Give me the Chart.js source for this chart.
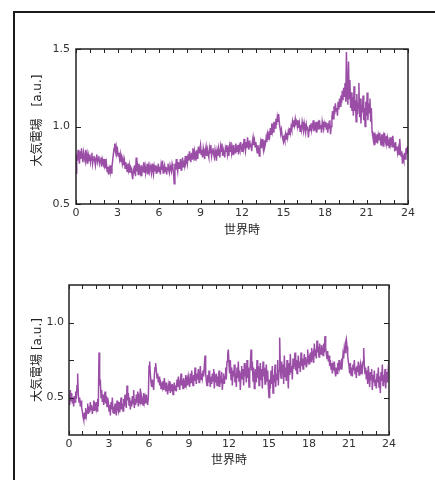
<!DOCTYPE html>
<html>
<head>
<meta charset="utf-8">
<script src="https://cdn.jsdelivr.net/npm/chart.js@4/dist/chart.umd.min.js"></script>
<style>
  html,body{margin:0;padding:0;background:#fff;}
  body{width:435px;height:480px;position:relative;overflow:hidden;}
  #frame{position:absolute;left:13px;top:11px;width:440px;height:480px;border-top:2px solid #1a1a1a;border-left:2px solid #1a1a1a;}
  canvas{position:absolute;left:0;}
  #c1{top:0;}
  #c2{top:240px;}
</style>
</head>
<body>
<div id="frame"></div>
<canvas id="c1" width="435" height="240"></canvas>
<canvas id="c2" width="435" height="240"></canvas>
<script>
// Hours: 0.00 .. 24.00 in steps of 0.05 (481 samples)
const hours = [];
for (let i = 0; i <= 480; i++) hours.push(+(i / 20).toFixed(2));

const xTickLabels = [0, 3, 6, 9, 12, 15, 18, 21, 24];
const xTitle = "世界時";
const yTitleTop = "　大気電場　[a.u.]";
const yTitleBottom = "大気電場 [a.u.]";

// one row = one hour (20 samples)
const fieldTop = [
  0.70,0.82,0.78,0.85,0.80,0.76,0.84,0.79,0.86,0.81,0.77,0.83,0.80,0.78,0.85,0.79,0.82,0.76,0.81,0.78,
  0.82,0.77,0.80,0.83,0.76,0.79,0.81,0.78,0.75,0.80,0.82,0.77,0.79,0.81,0.76,0.78,0.80,0.74,0.79,0.77,
  0.78,0.75,0.79,0.73,0.76,0.71,0.74,0.69,0.73,0.71,0.75,0.70,0.74,0.78,0.82,0.86,0.89,0.84,0.87,0.83,
  0.85,0.81,0.83,0.79,0.82,0.77,0.80,0.76,0.79,0.75,0.78,0.73,0.77,0.74,0.71,0.76,0.72,0.75,0.70,0.74,
  0.73,0.69,0.66,0.72,0.70,0.75,0.68,0.80,0.71,0.74,0.69,0.76,0.72,0.70,0.75,0.68,0.73,0.71,0.77,0.70,
  0.74,0.70,0.72,0.76,0.69,0.74,0.71,0.75,0.73,0.70,0.76,0.72,0.69,0.74,0.71,0.75,0.70,0.73,0.72,0.76,
  0.71,0.74,0.69,0.75,0.72,0.78,0.70,0.73,0.75,0.71,0.74,0.69,0.73,0.76,0.72,0.70,0.75,0.73,0.71,0.76,
  0.74,0.70,0.63,0.76,0.72,0.79,0.74,0.71,0.77,0.73,0.75,0.79,0.72,0.76,0.80,0.74,0.78,0.75,0.81,0.77,
  0.79,0.76,0.82,0.78,0.84,0.80,0.77,0.83,0.79,0.86,0.81,0.84,0.78,0.82,0.80,0.85,0.79,0.87,0.83,0.85,
  0.88,0.82,0.85,0.80,0.86,0.83,0.79,0.84,0.87,0.81,0.85,0.82,0.80,0.86,0.83,0.88,0.81,0.84,0.86,0.82,
  0.80,0.85,0.82,0.78,0.84,0.81,0.86,0.83,0.80,0.87,0.84,0.89,0.81,0.85,0.83,0.80,0.86,0.84,0.88,0.82,
  0.85,0.81,0.87,0.84,0.90,0.83,0.86,0.82,0.88,0.85,0.83,0.89,0.86,0.84,0.88,0.82,0.87,0.85,0.90,0.86,
  0.84,0.89,0.86,0.92,0.87,0.84,0.90,0.86,0.93,0.88,0.85,0.91,0.87,0.89,0.84,0.90,0.93,0.88,0.91,0.87,
  0.90,0.86,0.83,0.88,0.85,0.81,0.87,0.90,0.86,0.92,0.88,0.85,0.91,0.87,0.89,0.93,0.90,0.95,0.92,0.97,
  0.94,0.99,0.95,1.02,0.97,1.00,0.96,1.03,0.99,1.05,1.01,1.06,1.03,1.08,1.02,0.99,0.96,0.98,0.94,0.92,
  0.90,0.93,0.91,0.95,0.92,0.96,0.93,0.97,0.95,0.99,0.96,1.00,0.98,1.03,1.00,1.04,1.01,1.05,1.02,1.03,
  1.00,1.04,0.99,1.02,0.97,1.01,0.98,1.03,1.00,0.97,1.02,0.99,0.96,1.01,0.98,1.00,0.93,0.98,1.01,0.97,
  1.02,0.98,1.00,1.04,0.97,1.01,0.99,1.03,0.96,1.00,1.02,0.98,1.04,0.99,1.01,0.96,1.03,1.00,0.98,1.02,
  1.00,1.03,0.98,1.02,0.96,1.01,0.99,1.04,0.95,1.00,1.06,1.10,1.05,1.13,1.08,1.15,1.10,1.12,1.07,1.16,
  1.11,1.18,1.13,1.20,1.15,1.23,1.17,1.25,1.19,1.28,1.16,1.48,1.20,1.14,1.42,1.18,1.30,1.12,1.22,1.10,
  1.19,1.07,1.26,1.10,1.17,1.03,1.21,1.08,1.15,1.28,1.06,1.18,1.02,1.14,1.09,1.20,1.04,1.12,1.00,1.16,
  1.07,1.22,1.04,1.15,1.09,1.18,1.03,1.12,0.97,0.94,0.91,0.96,0.88,0.93,0.90,0.95,0.89,0.94,0.91,0.96,
  0.92,0.88,0.95,0.90,0.93,0.87,0.96,0.91,0.89,0.94,0.88,0.92,0.90,0.86,0.93,0.89,0.91,0.87,0.94,0.90,
  0.88,0.84,0.90,0.85,0.87,0.83,0.86,0.82,0.92,0.85,0.81,0.84,0.76,0.80,0.78,0.83,0.79,0.86,0.82,0.87,
  0.83
];

const fieldBottom = [
  0.52,0.45,0.55,0.48,0.53,0.46,0.50,0.44,0.51,0.47,0.54,0.49,0.58,0.66,0.52,0.47,0.50,0.44,0.48,0.43,
  0.41,0.37,0.35,0.40,0.36,0.43,0.38,0.41,0.46,0.39,0.44,0.40,0.47,0.42,0.45,0.39,0.43,0.48,0.41,0.45,
  0.43,0.47,0.41,0.49,0.44,0.80,0.58,0.62,0.50,0.55,0.47,0.52,0.45,0.49,0.54,0.46,0.51,0.44,0.50,0.47,
  0.41,0.45,0.38,0.47,0.42,0.50,0.40,0.44,0.39,0.46,0.42,0.38,0.48,0.43,0.41,0.47,0.40,0.44,0.50,0.42,
  0.46,0.41,0.49,0.44,0.52,0.47,0.43,0.58,0.48,0.53,0.45,0.50,0.42,0.48,0.44,0.51,0.46,0.55,0.43,0.49,
  0.45,0.52,0.47,0.54,0.44,0.50,0.48,0.56,0.46,0.51,0.49,0.45,0.53,0.47,0.50,0.46,0.52,0.48,0.45,0.50,
  0.71,0.74,0.66,0.60,0.57,0.62,0.58,0.55,0.65,0.70,0.73,0.68,0.63,0.66,0.60,0.64,0.58,0.62,0.56,0.60,
  0.57,0.61,0.55,0.63,0.58,0.54,0.60,0.56,0.52,0.58,0.55,0.61,0.53,0.57,0.54,0.59,0.52,0.56,0.60,0.55,
  0.58,0.54,0.62,0.57,0.64,0.59,0.55,0.61,0.66,0.58,0.62,0.56,0.63,0.60,0.57,0.65,0.59,0.62,0.58,0.64,
  0.61,0.57,0.66,0.60,0.68,0.62,0.58,0.65,0.61,0.70,0.63,0.59,0.66,0.62,0.69,0.60,0.64,0.71,0.62,0.66,
  0.63,0.68,0.64,0.71,0.78,0.66,0.61,0.58,0.65,0.60,0.68,0.62,0.57,0.64,0.59,0.66,0.61,0.69,0.56,0.63,
  0.60,0.66,0.58,0.64,0.61,0.68,0.57,0.63,0.60,0.67,0.55,0.62,0.66,0.59,0.64,0.70,0.62,0.74,0.79,0.82,
  0.72,0.66,0.75,0.62,0.70,0.58,0.68,0.64,0.72,0.60,0.66,0.57,0.70,0.63,0.74,0.61,0.68,0.55,0.66,0.71,
  0.62,0.69,0.58,0.73,0.64,0.67,0.60,0.75,0.63,0.70,0.57,0.66,0.72,0.82,0.68,0.74,0.61,0.70,0.56,0.65,
  0.69,0.60,0.75,0.63,0.71,0.58,0.67,0.73,0.62,0.69,0.56,0.74,0.64,0.70,0.59,0.66,0.72,0.61,0.68,0.57,
  0.50,0.62,0.56,0.68,0.59,0.71,0.53,0.65,0.60,0.72,0.57,0.66,0.62,0.75,0.58,0.68,0.90,0.70,0.63,0.74,
  0.66,0.72,0.59,0.78,0.64,0.70,0.61,0.75,0.68,0.56,0.73,0.65,0.79,0.67,0.71,0.62,0.76,0.69,0.74,0.80,
  0.68,0.75,0.66,0.72,0.78,0.70,0.74,0.67,0.80,0.71,0.76,0.69,0.73,0.79,0.72,0.77,0.70,0.75,0.82,0.74,
  0.76,0.72,0.80,0.74,0.83,0.77,0.79,0.73,0.86,0.78,0.82,0.76,0.88,0.80,0.84,0.77,0.86,0.81,0.79,0.85,
  0.82,0.78,0.86,0.80,0.91,0.83,0.79,0.76,0.81,0.74,0.78,0.71,0.75,0.69,0.73,0.66,0.71,0.68,0.74,0.67,
  0.64,0.70,0.66,0.73,0.68,0.75,0.70,0.72,0.69,0.76,0.73,0.79,0.76,0.83,0.80,0.87,0.89,0.84,0.78,0.74,
  0.71,0.66,0.73,0.65,0.70,0.64,0.72,0.68,0.75,0.66,0.70,0.63,0.71,0.67,0.74,0.65,0.69,0.72,0.66,0.70,
  0.68,0.74,0.83,0.72,0.66,0.70,0.62,0.68,0.59,0.71,0.64,0.57,0.67,0.62,0.69,0.55,0.65,0.60,0.68,0.58,
  0.62,0.56,0.66,0.60,0.70,0.57,0.64,0.53,0.67,0.61,0.72,0.58,0.65,0.60,0.69,0.56,0.63,0.67,0.60,0.70,
  0.75
];

const yLabelsTop = [0.5, 1.0, 1.5];
const yTicksBottom = [0.5, 0.75, 1.0];
const yLabelsBottom = [0.5, 1.0];

const LINE_COLOR = '#9a4ea6';
const AXIS_COLOR = '#222';
const TEXT_COLOR = '#333';
const tickFont = {family: "'DejaVu Sans', Verdana, sans-serif", size: 11};
const titleFont = {family: "'DejaVu Sans', 'Noto Sans CJK JP', sans-serif", size: 12};

const framePlugin = {
  id: 'framePlugin',
  afterDatasetsDraw(chart, args, opts) {
    const {ctx, chartArea: a, scales} = chart;
    ctx.save();
    ctx.strokeStyle = AXIS_COLOR;
    ctx.lineWidth = 1;
    ctx.beginPath();
    const L = 4;
    for (let h = 0; h <= 24; h++) {
      const px = Math.round(scales.x.getPixelForValue(h)) + 0.5;
      ctx.moveTo(px, a.bottom); ctx.lineTo(px, a.bottom - L);
      ctx.moveTo(px, a.top); ctx.lineTo(px, a.top + L);
    }
    for (const v of opts.yTicks) {
      const py = Math.round(scales.y.getPixelForValue(v)) + 0.5;
      ctx.moveTo(a.left, py); ctx.lineTo(a.left + 5, py);
      ctx.moveTo(a.right, py); ctx.lineTo(a.right - 5, py);
    }
    ctx.stroke();
    ctx.lineWidth = 1.5;
    ctx.strokeRect(a.left, a.top, a.right - a.left, a.bottom - a.top);
    ctx.restore();
  }
};

function makeChart(id, values, cfg) {
  return new Chart(document.getElementById(id), {
    type: 'line',
    data: {
      datasets: [{
        data: hours.map((h, i) => ({x: h, y: values[i]})),
        borderColor: LINE_COLOR,
        borderWidth: 1.5,
        pointRadius: 0,
        tension: 0,
        fill: false
      }]
    },
    options: {
      responsive: false,
      animation: false,
      devicePixelRatio: 1,
      layout: {padding: {left: 0, top: cfg.padTop, right: cfg.padRight, bottom: 0}},
      plugins: {legend: {display: false}, tooltip: {enabled: false},
        framePlugin: {yTicks: cfg.yTicks}},
      scales: {
        x: {
          type: 'linear', min: 0, max: 24,
          afterBuildTicks: s => { s.ticks = xTickLabels.map(v => ({value: v})); },
          afterFit: s => { s.height = cfg.xHeight; },
          grid: {display: false, drawTicks: false},
          border: {display: false},
          ticks: {font: tickFont, color: TEXT_COLOR, padding: 3, maxRotation: 0, autoSkip: false},
          title: {display: true, text: xTitle, font: titleFont, color: '#222', padding: {top: 0, bottom: cfg.xTitlePad}}
        },
        y: {
          type: 'linear', min: cfg.yMin, max: cfg.yMax,
          afterBuildTicks: s => { s.ticks = cfg.yLabels.map(v => ({value: v})); },
          afterFit: s => { s.width = cfg.yWidth; },
          grid: {display: false, drawTicks: false},
          border: {display: false},
          ticks: {font: tickFont, color: TEXT_COLOR, padding: cfg.yTickPad,
            callback: v => v.toFixed(1)},
          title: {display: true, text: cfg.yTitle, font: titleFont, color: '#222', padding: {top: 31, bottom: 0}}
        }
      }
    },
    plugins: [framePlugin]
  });
}

makeChart('c1', fieldTop, {
  padTop: 49, padRight: 27, xHeight: 36, xTitlePad: 2, yWidth: 76, yTickPad: 6,
  yMin: 0.5, yMax: 1.5, yLabels: yLabelsTop, yTicks: yLabelsTop, yTitle: yTitleTop
});
makeChart('c2', fieldBottom, {
  padTop: 45, padRight: 46, xHeight: 45, xTitlePad: 12, yWidth: 69, yTickPad: 5,
  yMin: 0.25, yMax: 1.25, yLabels: yLabelsBottom, yTicks: yTicksBottom, yTitle: yTitleBottom
});
</script>
</body>
</html>
